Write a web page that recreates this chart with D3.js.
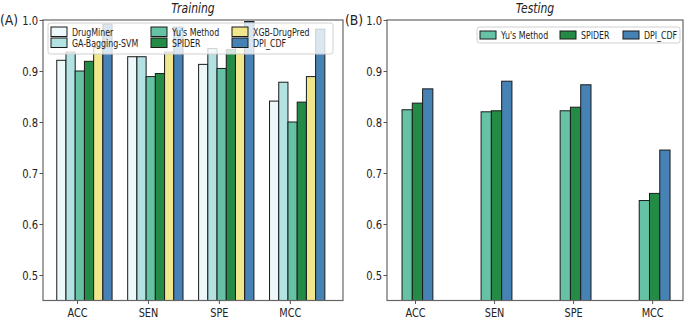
<!DOCTYPE html>
<html>
<head>
<meta charset="utf-8">
<script src="https://cdn.jsdelivr.net/npm/d3@7"></script>
<style>
  body { margin: 0; background: #fff; }
  svg text { font-family: "DejaVu Sans", sans-serif; fill: #222; }
</style>
</head>
<body>
<div id="chart"></div>
<script>
var metrics = ['ACC', 'SEN', 'SPE', 'MCC']
var yTicks = [0.5, 0.6, 0.7, 0.8, 0.9, 1.0]

var trainMethods = ['DrugMiner', 'GA-Bagging-SVM', "Yu's Method", 'SPIDER', 'XGB-DrugPred', 'DPI_CDF']
var trainColors = ['#edf8fb', '#b2e2e2', '#66c2a4', '#238b45', '#f0e68c', '#4682b4']
var trainDrugMiner = [0.921, 0.928, 0.913, 0.841]
var trainGABagging = [0.937, 0.928, 0.944, 0.878]
var trainYu = [0.900, 0.889, 0.905, 0.800]
var trainSpider = [0.919, 0.895, 0.942, 0.839]
var trainXGB = [0.946, 0.937, 0.950, 0.889]
var trainDPI = [0.992, 0.986, 0.997, 0.982]

var testMethods = ["Yu's Method", 'SPIDER', 'DPI_CDF']
var testColors = ['#66c2a4', '#238b45', '#4682b4']
var testYu = [0.824, 0.820, 0.822, 0.646]
var testSpider = [0.837, 0.822, 0.829, 0.660]
var testDPI = [0.865, 0.880, 0.873, 0.745]

var W = 685, H = 320
var svg = d3.select('#chart').append('svg').attr('width', W).attr('height', H)

var y = d3.scaleLinear().domain([0.45, 1.0]).range([300.5, 20])

// the figure's type is squeezed sideways, so scale texts horizontally
function squeeze(sel, k){
  sel.each(function(){
    var t = d3.select(this)
    var x0 = +t.attr('x') || 0
    t.attr('x', x0 / k).attr('transform', function(){
      var tr = t.attr('transform') || ''
      return tr + ' scale(' + k + ',1)'
    })
  })
}

function addText(x0, y0, k, size, str){
  return svg.append('text')
    .attr('transform', 'translate(' + x0 + ',' + y0 + ') scale(' + k + ',1)')
    .attr('font-size', size).text(str)
}

function panel(opt){
  var x = d3.scaleLinear().domain(opt.xlim).range([opt.left, opt.right])
  var g = svg.append('g')
  var bw = 0.13
  var series = opt.values

  // bars
  series.forEach(function(vals, i){
    g.selectAll('rect.s' + i).data(vals).enter().append('rect')
      .attr('class', 's' + i)
      .attr('x', function(d, j){ return x(j + (i - opt.shift) * bw) })
      .attr('width', x(bw) - x(0))
      .attr('y', function(d){ return y(d) })
      .attr('height', function(d){ return y(0.45) - y(d) })
      .attr('fill', opt.colors[i])
      .attr('stroke', '#1a1a1a')
      .attr('stroke-width', 1)
  })

  // frame
  g.append('rect').attr('x', opt.left).attr('y', 20)
    .attr('width', opt.right - opt.left).attr('height', 280.5)
    .attr('fill', 'none').attr('stroke', '#666').attr('stroke-width', 1.2)

  var yAxis = g.append('g').attr('transform', 'translate(' + opt.left + ',0)')
    .call(d3.axisLeft(y).tickValues(yTicks).tickFormat(d3.format('.1f')).tickSize(3.5).tickPadding(1.5))
  yAxis.select('.domain').remove()
  yAxis.selectAll('line').attr('stroke', '#555')
  yAxis.selectAll('text').attr('font-size', 12.5)
  squeeze(yAxis.selectAll('text'), 0.8)

  var xAxis = g.append('g').attr('transform', 'translate(0,300.5)')
    .call(d3.axisBottom(x).tickValues([0, 1, 2, 3]).tickFormat(function(d){ return metrics[d] }).tickSize(3.5).tickPadding(4))
  xAxis.select('.domain').remove()
  xAxis.selectAll('line').attr('stroke', '#555')
  xAxis.selectAll('text').attr('font-size', 12.5)
  squeeze(xAxis.selectAll('text'), 0.78)

  addText((opt.left + opt.right) / 2, 13, 0.8, 13.5, opt.title)
    .attr('text-anchor', 'middle').attr('font-style', 'italic')
  addText(opt.labelX, 25, 0.92, 13.5, opt.label)

  // legend
  var L = opt.legend
  var lg = svg.append('g')
  lg.append('rect').attr('x', L.x).attr('y', L.y).attr('width', L.w).attr('height', L.h)
    .attr('rx', 2.5).attr('fill', 'rgba(255,255,255,0.8)').attr('stroke', '#d0d0d0')
  opt.names.forEach(function(name, i){
    var col = Math.floor(i / L.rows), row = i % L.rows
    var hx = L.x + 3 + L.colX[col], hy = L.y + 4 + row * L.rowH
    lg.append('rect').attr('x', hx).attr('y', hy).attr('width', 16).attr('height', L.rowH - 1.5)
      .attr('fill', opt.colors[i]).attr('stroke', '#1a1a1a').attr('stroke-width', 1)
    addText(hx + 21, hy + (L.rowH - 1.5) / 2 + 3.8, 0.75, 10.5, name)
  })
}

panel({
  left: 43, right: 343, xlim: [-0.48, 3.75], shift: 2.2,
  values: [trainDrugMiner, trainGABagging, trainYu, trainSpider, trainXGB, trainDPI],
  colors: trainColors, names: trainMethods,
  title: 'Training', label: '(A)', labelX: 0,
  legend: { x: 48, y: 23, w: 285, h: 31, rows: 2, rowH: 11, colX: [0, 100, 181] }
})

panel({
  left: 387, right: 683, xlim: [-0.354, 3.39], shift: 1.26,
  values: [testYu, testSpider, testDPI],
  colors: testColors, names: testMethods,
  title: 'Testing', label: '(B)', labelX: 345,
  legend: { x: 477, y: 27, w: 203, h: 16, rows: 1, rowH: 9.5, colX: [0, 80, 143] }
})
</script>
</body>
</html>
